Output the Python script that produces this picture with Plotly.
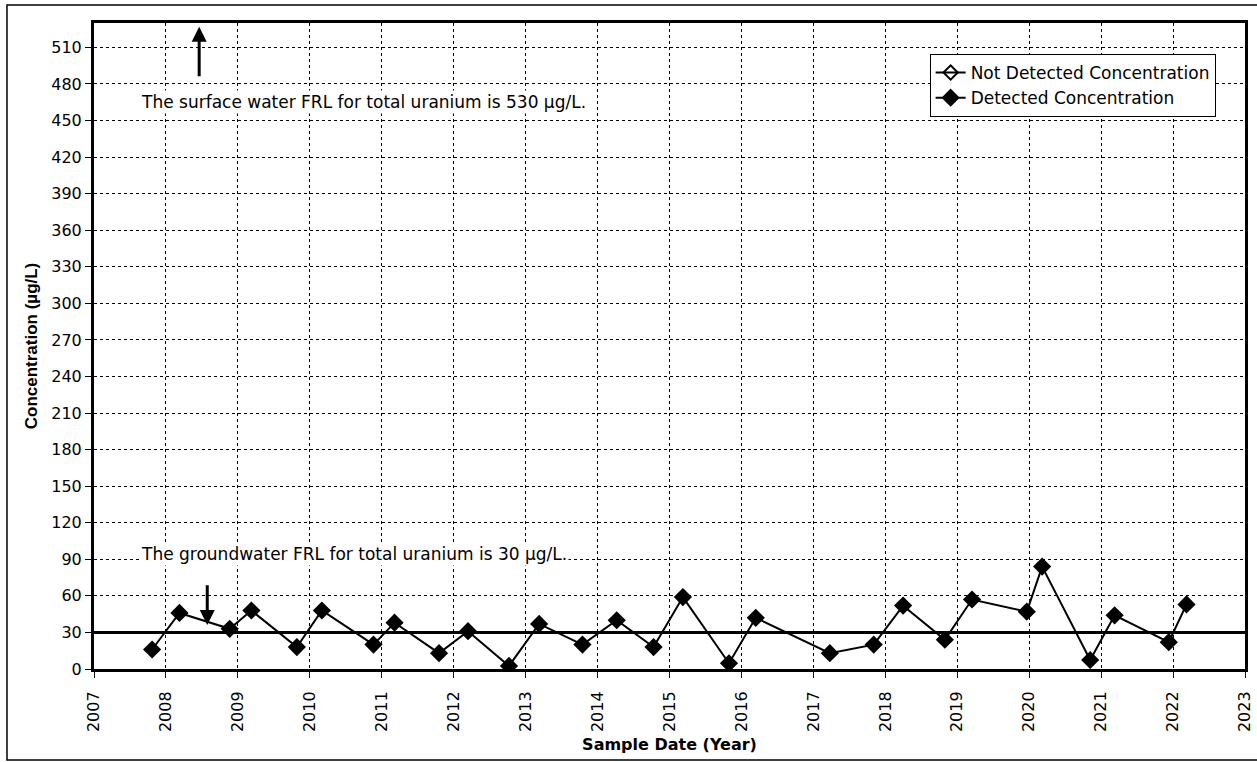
import plotly.graph_objects as go

# Total uranium sampling results
sample_dates = [
    "2007-10-23", "2008-03-10", "2008-11-20", "2009-03-10", "2009-10-27",
    "2010-03-03", "2010-11-20", "2011-03-07", "2011-10-19", "2012-03-14",
    "2012-10-08", "2013-03-10", "2013-10-16", "2014-04-08", "2014-10-12",
    "2015-03-10", "2015-10-30", "2016-03-14", "2017-03-25", "2017-11-03",
    "2018-04-01", "2018-10-30", "2019-03-17", "2019-12-20", "2020-03-07",
    "2020-11-06", "2021-03-10", "2021-12-10", "2022-03-10",
]
detected_values = [
    16, 46, 33, 48, 18,
    48, 20, 38, 13, 31,
    2.5, 37, 20, 40, 18,
    59, 4.7, 42, 13, 20,
    52, 24, 57, 47, 84,
    7.4, 44, 22, 53,
]

# No non-detects in this record
not_detected_dates = [None]
not_detected_values = [None]

GROUNDWATER_FRL = 30
SURFACE_WATER_FRL = 530

FONT = "DejaVu Sans, Liberation Sans, Arial, sans-serif"
FONT_NARROW = "Liberation Sans, Arial, sans-serif"

fig = go.Figure()

fig.add_trace(go.Scatter(
    x=not_detected_dates, y=not_detected_values,
    mode="lines+markers",
    name="Not Detected Concentration",
    line=dict(color="black", width=2),
    marker=dict(symbol="diamond-open", size=11, color="black",
                line=dict(color="black", width=2)),
))

fig.add_trace(go.Scatter(
    x=sample_dates, y=detected_values,
    mode="lines+markers",
    name="Detected Concentration",
    line=dict(color="black", width=2),
    marker=dict(symbol="diamond", size=14, color="black"),
))

# Groundwater FRL reference line
fig.add_shape(type="line", xref="paper", yref="y",
              x0=0, x1=1, y0=GROUNDWATER_FRL, y1=GROUNDWATER_FRL,
              line=dict(color="black", width=3), layer="above")

# Outer chart frame
fig.add_shape(type="rect", xref="paper", yref="paper",
              x0=-0.0756, x1=1.0243, y0=-0.1409, y1=1.0279,
              line=dict(color="black", width=1.5))

# Surface water FRL arrow (points up off the top of the axis)
fig.add_annotation(
    x="2008-06-18", y=527, xref="x", yref="y",
    ax="2008-06-18", ay=485, axref="x", ayref="y",
    showarrow=True, arrowhead=2, arrowsize=1, arrowwidth=3,
    arrowcolor="black", text="",
)
fig.add_annotation(
    x=0.039, y=0.8777, xref="paper", yref="paper",
    xanchor="left", yanchor="middle", showarrow=False,
    text="The surface water FRL for total uranium is 530 µg/L.",
    font=dict(family=FONT, size=17, color="black"),
    bgcolor="white", borderpad=1,
)

# Groundwater FRL arrow
fig.add_annotation(
    x="2008-07-29", y=36, xref="x", yref="y",
    ax="2008-07-29", ay=70, axref="x", ayref="y",
    showarrow=True, arrowhead=2, arrowsize=1, arrowwidth=3,
    arrowcolor="black", text="",
)
fig.add_annotation(
    x=0.039, y=0.178, xref="paper", yref="paper",
    xanchor="left", yanchor="middle", showarrow=False,
    text="The groundwater FRL for total uranium is 30 µg/L.",
    font=dict(family=FONT, size=17, color="black"),
    bgcolor="white", borderpad=1,
)

fig.update_layout(
    width=1257, height=762,
    margin=dict(l=94, r=12, t=23, b=93),
    paper_bgcolor="white", plot_bgcolor="white",
    font=dict(family=FONT, size=16, color="black"),
    showlegend=True,
    legend=dict(
        x=0.726, y=0.952, xanchor="left", yanchor="top",
        bgcolor="white", bordercolor="black", borderwidth=1,
        font=dict(family=FONT, size=17, color="black"),
        tracegroupgap=0, itemwidth=30,
    ),
    xaxis=dict(
        type="date",
        range=["2007-01-01", "2023-01-01"],
        tick0="2007-01-01", dtick="M12", tickformat="%Y",
        tickangle=-90,
        ticks="outside", ticklen=6, tickwidth=1, tickcolor="black",
        ticklabelstandoff=7,
        showline=True, linecolor="black", linewidth=3, mirror=True,
        showgrid=True, gridcolor="black", gridwidth=1, griddash="3px,3px",
        zeroline=False,
        tickfont=dict(family=FONT, size=16, color="black"),
        title=dict(text="<b>Sample Date (Year)</b>", standoff=8,
                   font=dict(family=FONT, size=16, color="black")),
        automargin=False,
    ),
    yaxis=dict(
        range=[0, SURFACE_WATER_FRL], tick0=0, dtick=30,
        ticks="outside", ticklen=6, tickwidth=1, tickcolor="black",
        showline=True, linecolor="black", linewidth=3, mirror=True,
        showgrid=True, gridcolor="black", gridwidth=1, griddash="3px,3px",
        zeroline=False,
        tickfont=dict(family=FONT, size=16, color="black"),
        title=dict(text="<b>Concentration (µg/L)</b>", standoff=10,
                   font=dict(family=FONT_NARROW, size=17, color="black")),
        automargin=False,
    ),
)

fig.write_html("out.html")
